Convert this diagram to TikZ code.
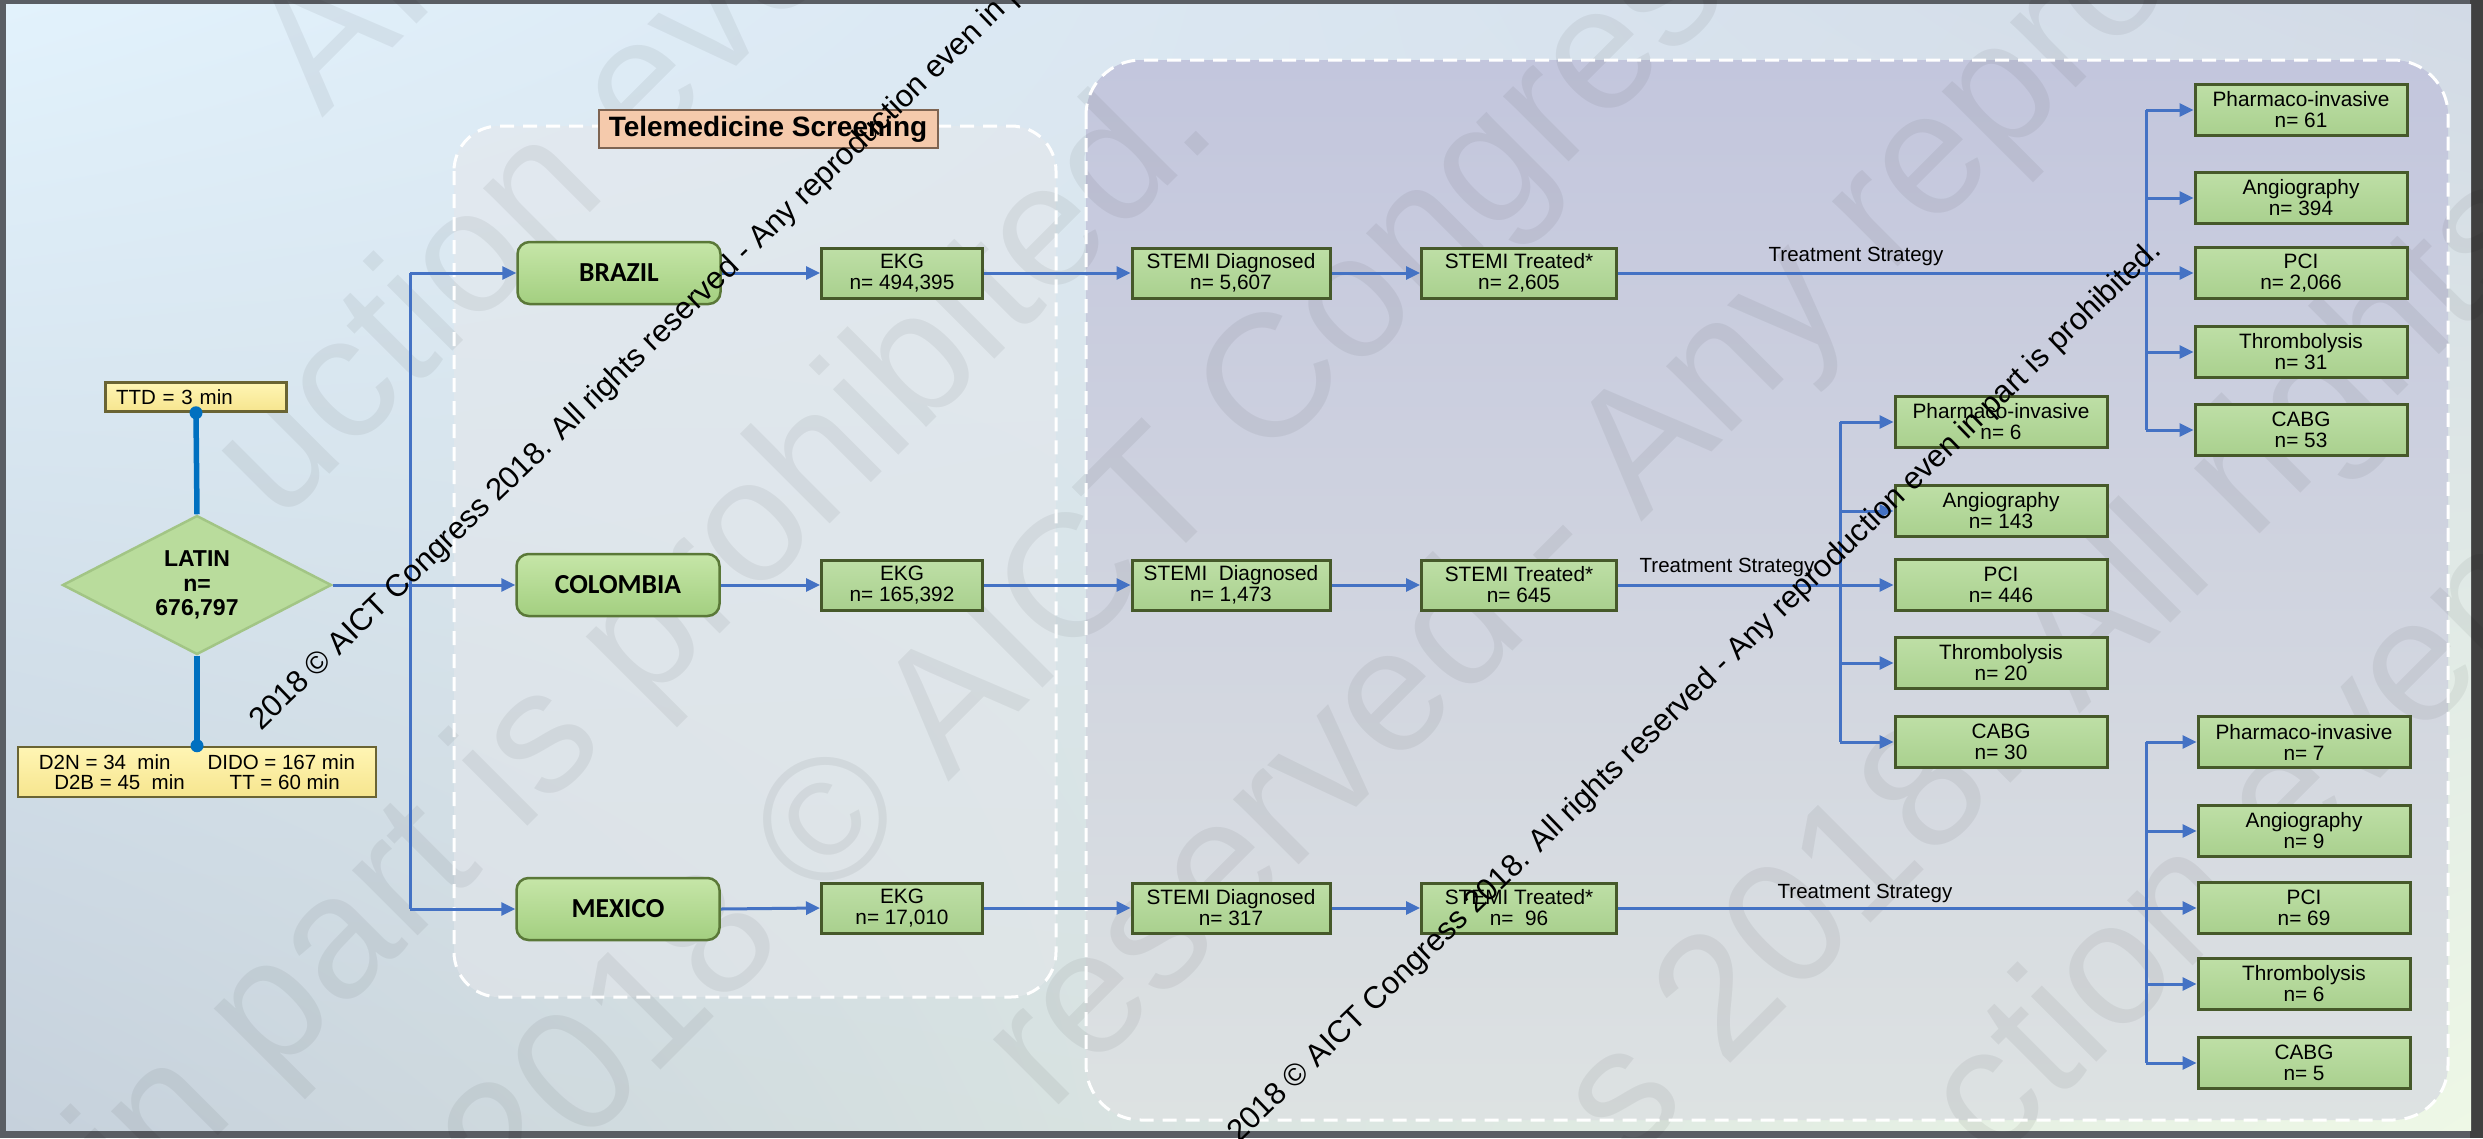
\documentclass[tikz,border=0pt]{standalone}
\usepackage{fontspec}
\setmainfont{Liberation Sans}
\newfontfamily\calfont{Carlito}
\usetikzlibrary{arrows.meta,shapes.geometric,shadings}
\definecolor{gtop}{HTML}{BEDFA6}
\definecolor{gbot}{HTML}{A9D08E}
\definecolor{gdraw}{HTML}{46592A}
\definecolor{ctop}{HTML}{C6E6A8}
\definecolor{cbot}{HTML}{A3CF80}
\definecolor{cdraw}{HTML}{5A7838}
\definecolor{ytop}{HTML}{FFF5B4}
\definecolor{ybot}{HTML}{F6E58E}
\definecolor{ydraw}{HTML}{6A6433}
\definecolor{pfill}{HTML}{F5CAAC}
\definecolor{pdraw}{HTML}{7E6452}
\definecolor{lblue}{HTML}{4472C4}
\definecolor{dblue}{HTML}{0070C0}
\definecolor{dfill}{HTML}{B9DC9C}
\definecolor{ddraw}{HTML}{A2C585}
\definecolor{bgtl}{HTML}{E2F2FC}
\definecolor{bgtr}{HTML}{D2DAE6}
\definecolor{bgbl}{HTML}{C6D1DC}
\definecolor{bgbr}{HTML}{EEF8E6}
\definecolor{framec}{HTML}{5A5E64}
\definecolor{rtop}{HTML}{C3C6DD}
\definecolor{rbot}{HTML}{DDE2E2}
\definecolor{tfill}{HTML}{E6E8EC}
\tikzset{
  box/.style={draw=gdraw, line width=3pt, top color=gtop, bottom color=gbot, inner sep=0pt, align=center,
    minimum height=50pt, font=\fontsize{20.8}{21}\selectfont},
  ekgbox/.style={box, minimum width=161pt},
  diagbox/.style={box, minimum width=198pt},
  treatbox/.style={box, minimum width=195pt},
  optbox/.style={box, minimum width=212pt, minimum height=51pt},
  country/.style={draw=cdraw, line width=2.5pt, rounded corners=12pt, top color=ctop,
    bottom color=cbot, minimum width=203pt, minimum height=62pt, inner sep=0pt,
    font=\calfont\bfseries\fontsize{27.5}{27}\selectfont},
  ybox/.style={draw=ydraw, line width=2.5pt, top color=ytop, bottom color=ybot, inner sep=0pt, align=center,
    font=\fontsize{20.5}{20}\selectfont},
  conn/.style={draw=lblue, line width=3pt},
  arr/.style={conn, -{Triangle[length=14pt,width=13pt]}},
  thickc/.style={draw=dblue, line width=5.5pt},
  dashbox/.style={draw=white, line width=3pt, dash pattern=on 14pt off 9pt},
  lbl/.style={font=\fontsize{20.5}{20}\selectfont, inner sep=0pt},
  wmark/.style={font=\fontsize{31}{31}\selectfont, inner sep=0pt, rotate=44, anchor=base west},
  bigmark/.style={font=\fontsize{175}{175}\selectfont, inner sep=0pt, rotate=45, anchor=west,
    text=black, text opacity=0.055}
}
\begin{document}
\begin{tikzpicture}[x=1pt,y=-1pt]
\useasboundingbox (0,0) rectangle (2483,1138);
% frame and background
\fill[framec] (0,0) rectangle (2483,1138);
\fill[black!75] (2470,0) rectangle (2483,1138);
\shade[upper left=bgtl, upper right=bgtr, lower left=bgbl, lower right=bgbr] (6,4) rectangle (2471,1130);
% group backgrounds
\fill[tfill, fill opacity=0.5, rounded corners=45pt] (454,126) rectangle (1056,997);
\shade[top color=rtop, bottom color=rbot, rounded corners=55pt] (1086,60) rectangle (2448,1120);
% faint big watermark
\node[bigmark] (bw0) at (292,88) {AICT Congress};
\node[bigmark] (bw1) at (235,480) {uction even in};
\node[bigmark] (bw2) at (109,1181) {in part is prohibited.};
\node[bigmark] (bw3) at (483,1187) {2018 © AICT Congress};
\node[bigmark] (bw4) at (1018,1082) {reserved - Any reproduction};
\node[bigmark] (bw5) at (1596,1134) {s 2018. All rights reserved};
\node[bigmark] (bw6) at (1960,1135) {ction even in part};
% dashed borders
\draw[dashbox, rounded corners=45pt] (454,126) rectangle (1056,997);
\draw[dashbox, rounded corners=55pt] (1086,60) rectangle (2448,1120);
\node[draw=pdraw, line width=2pt, fill=pfill, minimum width=339pt, minimum height=38pt, inner sep=0pt,
  font=\bfseries\fontsize{28}{28}\selectfont] (tele) at (768,129) {Telemedicine Screening};

% left part
\node[ybox, minimum width=181pt, minimum height=29pt, text width=160pt, inner xsep=10.5pt, align=left] (ttd) at (196,397) {TTD = 3 min};
\node[diamond, aspect=1.94, minimum width=269pt, minimum height=139pt, inner sep=0pt,
  fill=dfill, draw=ddraw, line width=2.5pt, align=center,
  font=\bfseries\fontsize{23}{24.5}\selectfont] (latin) at (197,585) {LATIN\\n=\\676,797};
\node[ybox, minimum width=358pt, minimum height=50pt] (dtimes) at (197,772)
  {D2N = 34\ \ min\hspace{37pt}DIDO = 167 min\\D2B = 45\ \ min\hspace{45pt}TT = 60 min};
\draw[thickc] (ttd.south) -- (latin.north);
\draw[thickc] (latin.south) -- (dtimes.north);
\fill[dblue] (ttd.south) circle (6.5);
\fill[dblue] (dtimes.north) circle (6.5);

% countries
\node[country] (brazil) at (619,273) {BRAZIL};
\node[country] (colombia) at (618,585) {COLOMBIA};
\node[country] (mexico) at (618,909) {MEXICO};
\coordinate (tk1) at (410,273);
\coordinate (tkm) at (410,585);
\coordinate (tk2) at (410,909);
\draw[conn] (latin.east) -- (tkm);
\draw[conn] (tk1) -- (tk2);
\draw[arr] (tk1) -- (brazil.west);
\draw[arr] (tkm) -- (colombia.west);
\draw[arr] (tk2) -- (mexico.west);

% rows
\node[ekgbox] (ekgb) at (902,273) {EKG\\n= 494,395};
\node[ekgbox] (ekgc) at (902,585) {EKG\\n= 165,392};
\node[ekgbox] (ekgm) at (902,908) {EKG\\n= 17,010};
\node[diagbox] (diagb) at (1231,273) {STEMI Diagnosed\\n= 5,607};
\node[diagbox] (diagc) at (1231,585) {STEMI\ \ Diagnosed\\n= 1,473};
\node[diagbox] (diagm) at (1231,908) {STEMI Diagnosed\\n= 317};
\node[treatbox] (trb) at (1519,273) {STEMI Treated*\\n= 2,605};
\node[treatbox] (trc) at (1519,585) {STEMI Treated*\\n= 645};
\node[treatbox] (trm) at (1519,908) {STEMI Treated*\\n=\ \ 96};
\draw[arr] (brazil.east) -- (ekgb.west);
\draw[arr] (colombia.east) -- (ekgc.west);
\draw[arr] (mexico.east) -- (ekgm.west);
\foreach \r in {b,c,m}{
  \draw[arr] (ekg\r.east) -- (diag\r.west);
  \draw[arr] (diag\r.east) -- (tr\r.west);
}

% Brazil treatments
\node[optbox] (bpi) at (2301,110) {Pharmaco-invasive\\n= 61};
\node[optbox] (ban) at (2301,198) {Angiography\\n= 394};
\node[optbox] (bpc) at (2301,273) {PCI\\n= 2,066};
\node[optbox] (bth) at (2301,352) {Thrombolysis\\n= 31};
\node[optbox] (bca) at (2301,430) {CABG\\n= 53};
\coordinate (bv1) at (2146,110);
\coordinate (bv2) at (2146,430);
\draw[conn] (bv1) -- (bv2);
\draw[arr] (trb.east) -- (bpc.west);
\foreach \n in {bpi,ban,bth,bca} \draw[arr] (\n.west -| bv1) -- (\n.west);
\node[lbl] (tsb) at (1856,256) {Treatment Strategy};

% Colombia treatments
\node[optbox] (cpi) at (2001,422) {Pharmaco-invasive\\n= 6};
\node[optbox] (can) at (2001,511) {Angiography\\n= 143};
\node[optbox] (cpc) at (2001,585) {PCI\\n= 446};
\node[optbox] (cth) at (2001,663) {Thrombolysis\\n= 20};
\node[optbox] (cca) at (2001,742) {CABG\\n= 30};
\coordinate (cv1) at (1840,422);
\coordinate (cv2) at (1840,742);
\draw[conn] (cv1) -- (cv2);
\draw[arr] (trc.east) -- (cpc.west);
\foreach \n in {cpi,can,cth,cca} \draw[arr] (\n.west -| cv1) -- (\n.west);
\node[lbl] (tsc) at (1727,567) {Treatment Strategy};

% Mexico treatments
\node[optbox] (mpi) at (2304,742) {Pharmaco-invasive\\n= 7};
\node[optbox] (man) at (2304,831) {Angiography\\n= 9};
\node[optbox] (mpc) at (2304,908) {PCI\\n= 69};
\node[optbox] (mth) at (2304,984) {Thrombolysis\\n= 6};
\node[optbox] (mca) at (2304,1063) {CABG\\n= 5};
\coordinate (mv1) at (2146,742);
\coordinate (mv2) at (2146,1063);
\draw[conn] (mv1) -- (mv2);
\draw[arr] (trm.east) -- (mpc.west);
\foreach \n in {mpi,man,mth,mca} \draw[arr] (\n.west -| mv1) -- (\n.west);
\node[lbl] (tsm) at (1865,893) {Treatment Strategy};

% black watermarks
\node[wmark] (wm1) at (261,732) {2018 © AICT Congress 2018. All rights reserved - Any reproduction even in part is prohibited.};
\node[wmark] (wm2) at (1239,1144) {2018 © AICT Congress 2018. All rights reserved - Any reproduction even in part is prohibited.};
\end{tikzpicture}
\end{document}
